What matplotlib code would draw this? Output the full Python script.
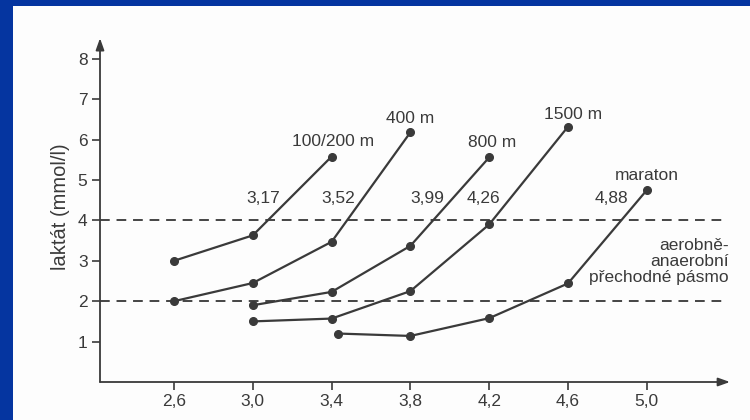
import numpy as np
import matplotlib.pyplot as plt
from matplotlib.patches import Rectangle

plt.rcParams['font.family'] = ['Liberation Sans', 'DejaVu Sans']

# %% data
x_100 = [2.6, 3.0, 3.4]
y_100 = [3.0, 3.63, 5.58]
x_400 = [2.6, 3.0, 3.4, 3.8]
y_400 = [2.0, 2.45, 3.47, 6.18]
x_800 = [3.0, 3.4, 3.8, 4.2]
y_800 = [1.9, 2.23, 3.37, 5.56]
x_1500 = [3.0, 3.4, 3.8, 4.2, 4.6]
y_1500 = [1.5, 1.57, 2.25, 3.9, 6.32]
x_mar = [3.43, 3.8, 4.2, 4.6, 5.0]
y_mar = [1.2, 1.14, 1.58, 2.44, 4.75]

nazvy = ["100/200 m", "400 m", "800 m", "1500 m", "maraton"]
prahy = ["3,17", "3,52", "3,99", "4,26", "4,88"]
pasmo = [2, 4]

xticks = [2.6, 3.0, 3.4, 3.8, 4.2, 4.6, 5.0]
xticklabels = ["2,6", "3,0", "3,4", "3,8", "4,2", "4,6", "5,0"]
yticks = [1, 2, 3, 4, 5, 6, 7, 8]

# %% figure
ink = '#3a3a3a'
fs = 12.5

fig = plt.figure(figsize=(7.5, 4.2), dpi=100, facecolor='#0535a0')
fig.patches.append(Rectangle((13 / 750, 0), 1, 1 - 6 / 420, transform=fig.transFigure,
                             facecolor='#fdfdfd', edgecolor='none', zorder=-10))

ax = fig.add_axes([100 / 750, 38 / 420, 640 / 750, 352 / 420])
ax.set_facecolor('none')
xmin, xmax = 2.6 - 74 / 197, 2.6 + 566 / 197
ax.set_xlim(xmin, xmax)
ax.set_ylim(0, 352 / 40.4)
for s in ax.spines.values():
    s.set_visible(False)

# osy se sipkami
ax.annotate('', xy=(5.422, 0), xytext=(xmin, 0),
            arrowprops=dict(arrowstyle='-|>,head_length=0.7,head_width=0.25', color=ink, lw=1.3, shrinkA=0, shrinkB=0),
            annotation_clip=False)
ax.annotate('', xy=(xmin, 8.51), xytext=(xmin, 0),
            arrowprops=dict(arrowstyle='-|>,head_length=0.7,head_width=0.25', color=ink, lw=1.3, shrinkA=0, shrinkB=0),
            annotation_clip=False)

ax.set_xticks(xticks)
ax.set_xticklabels(xticklabels)
ax.set_yticks(yticks)
ax.tick_params(direction='out', length=6, width=1.2, color=ink, labelcolor=ink, labelsize=fs, pad=3)
ax.text(-39 / 640, (382 - 207) / 352, "laktát (mmol/l)", rotation=90, ha='center', va='center',
        transform=ax.transAxes, fontsize=14.5, color=ink)

# prerusovane cary
ax.hlines(pasmo, xmin, 5.397, colors='#444444', linestyles=(0, (5, 3.5)), lw=1.4)

# krivky
for xs, ys in [(x_100, y_100), (x_400, y_400), (x_800, y_800), (x_1500, y_1500), (x_mar, y_mar)]:
    ax.plot(xs, ys, '-o', color=ink, lw=1.6, ms=5.5, clip_on=False)

# popisky
pos_nazvy = [(3.407, 5.95), (3.798, 6.51), (4.213, 5.92), (4.627, 6.63), (5.0, 5.12)]
for t, (px, py) in zip(nazvy, pos_nazvy):
    ax.text(px, py, t, ha='center', va='center', fontsize=fs, color=ink)

pos_prahy = [(3.052, 4.53), (3.432, 4.53), (3.887, 4.53), (4.17, 4.53), (4.822, 4.53)]
for t, (px, py) in zip(prahy, pos_prahy):
    ax.text(px, py, t, ha='center', va='center', fontsize=fs, color=ink)

ax.text(5.417, 2.98, "aerobně-\nanaerobní\npřechodné pásmo", ha='right', va='center',
        multialignment='right', fontsize=fs, color=ink, linespacing=1.1)

fig.savefig('out.png', dpi=100, facecolor=fig.get_facecolor())
